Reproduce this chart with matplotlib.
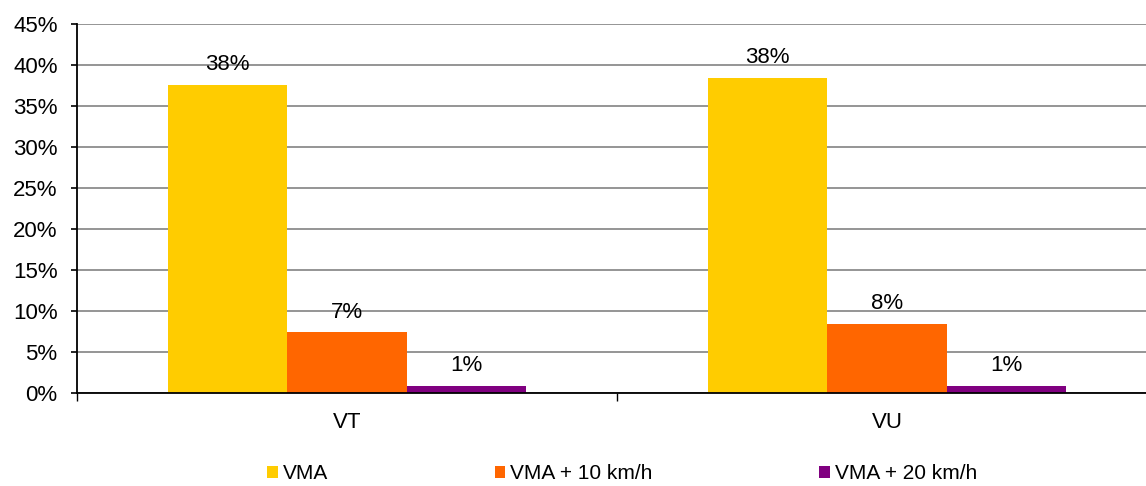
import numpy as np
import matplotlib.pyplot as plt
from matplotlib.ticker import FixedLocator

plt.rcParams['font.family'] = ['Liberation Sans', 'DejaVu Sans']

categories = ["VT", "VU"]
series = ["VMA", "VMA + 10 km/h", "VMA + 20 km/h"]
vma = [37.6, 38.4]
vma10 = [7.4, 8.4]
vma20 = [0.9, 0.9]
colors = ["#FFCC00", "#FF6600", "#800080"]

fig = plt.figure(figsize=(11.46, 4.86), dpi=100)
ax = fig.add_axes([0.0672, 0.1914, 0.9424, 0.7592])

x = np.arange(len(categories))
w = 0.221
for i, (name, vals, c) in enumerate(zip(series, [vma, vma10, vma20], colors)):
    pos = x + (i - 1) * w
    ax.bar(pos, vals, width=w, color=c, label=name, zorder=3)
    for px, v in zip(pos, vals):
        ax.annotate(f"{round(v)}%", (px, v), xytext=(0, 7), textcoords="offset points",
                    ha="center", va="bottom", fontsize=16)

ax.set_xlim(-0.5, 1.5)
ax.set_ylim(0, 45)
ax.set_yticks(np.arange(0, 46, 5))
ax.set_yticklabels([f"{t}%" for t in range(0, 46, 5)])
ax.yaxis.grid(True, color="#8c8c8c", linewidth=1.3, zorder=0)
ax.set_xticks(x)
ax.set_xticklabels(categories)
ax.xaxis.set_minor_locator(FixedLocator([-0.5, 0.5, 1.5]))
ax.tick_params(axis="x", which="major", length=0, pad=14, labelsize=16)
ax.tick_params(axis="x", which="minor", length=6, width=1, direction="out")
ax.tick_params(axis="y", length=4, width=1.2, pad=10, labelsize=16)
for s in ["top", "right"]:
    ax.spines[s].set_visible(False)
ax.spines["left"].set_linewidth(1.3)
ax.spines["bottom"].set_linewidth(1.3)
ax.spines["bottom"].set_zorder(4)

fig.legend(loc="center", bbox_to_anchor=(0.543, 0.025), ncol=3, frameon=False,
           fontsize=15, handlelength=0.5, handleheight=0.5, handletextpad=0.25,
           columnspacing=8.0)

fig.savefig("out.png", dpi=100)
